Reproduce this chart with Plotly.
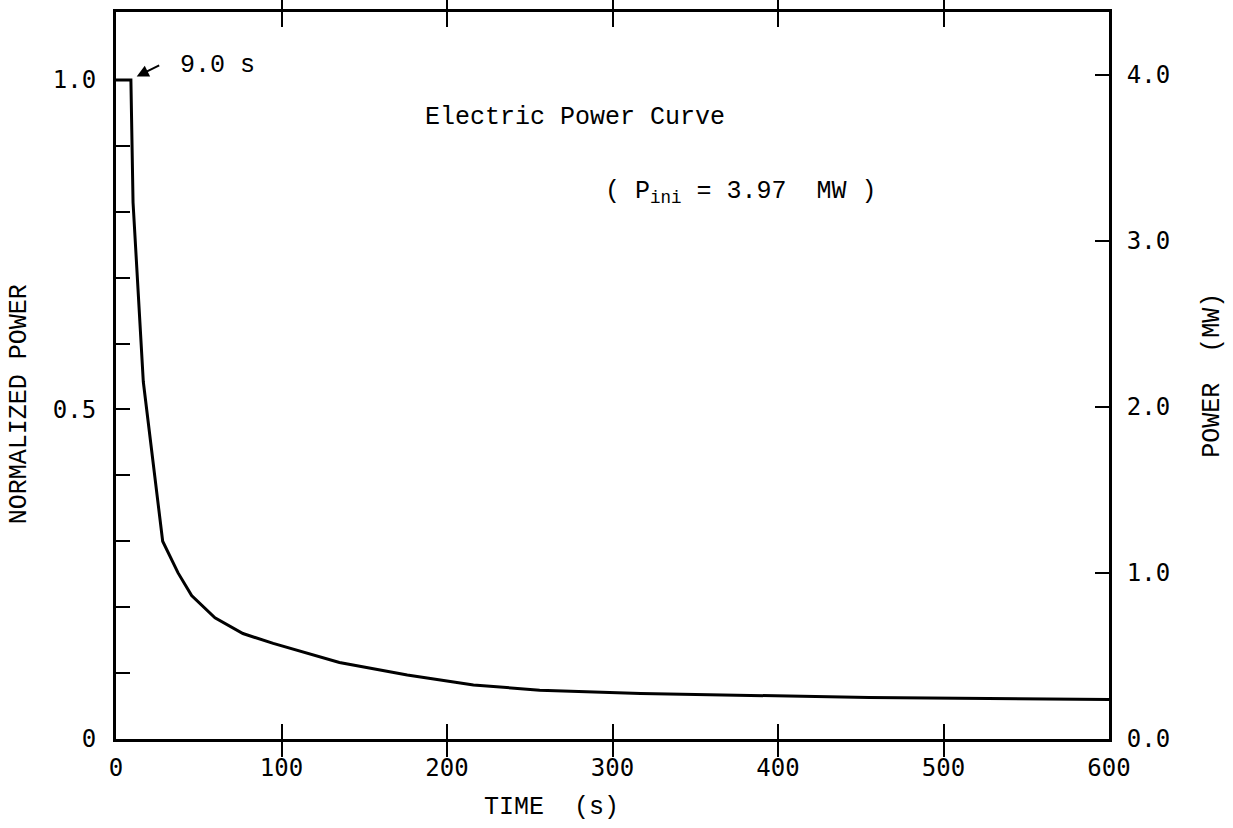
import plotly.graph_objects as go

# Data
time_s = [0, 9, 10.3, 16.5, 28.2, 37.5, 45.7, 59.8, 76.7, 95, 135, 176, 216, 256, 317, 455, 600]
norm_power = [1.0, 1.0, 0.814, 0.542, 0.30, 0.252, 0.2175, 0.184, 0.160, 0.145, 0.116,
              0.097, 0.082, 0.074, 0.069, 0.063, 0.060]
P_ini = 3.97  # MW

x_ticks = [0, 100, 200, 300, 400, 500, 600]
y_ticks = [round(0.1 * i, 1) for i in range(11)]
y_tick_text = ["0", "", "", "", "", "0.5", "", "", "", "", "1.0"]
y2_ticks = [0.0, 1.0, 2.0, 3.0, 4.0]
y2_tick_text = ["0.0", "1.0", "2.0", "3.0", "4.0"]

y_max = 1.103

TICK_FONT = dict(family="DejaVu Sans Mono", size=24, color="black")
TEXT_FONT = dict(family="Liberation Mono", size=25, color="black")

fig = go.Figure()
fig.add_trace(go.Scatter(x=time_s, y=norm_power, mode="lines",
                         line=dict(color="black", width=3), showlegend=False))
# invisible trace to activate right axis
fig.add_trace(go.Scatter(x=[0], y=[0], yaxis="y2", mode="markers",
                         marker=dict(opacity=0), showlegend=False, hoverinfo="skip"))

fig.update_layout(
    width=1233, height=828,
    margin=dict(l=116, r=124, t=9, b=89),
    plot_bgcolor="white", paper_bgcolor="white",
    xaxis=dict(range=[0, 600], tickvals=x_ticks, ticktext=[str(v) for v in x_ticks],
               ticks="inside", ticklen=15, tickwidth=2, tickcolor="black",
               showline=True, linewidth=3, linecolor="black", mirror="allticks",
               showgrid=False, zeroline=False, tickfont=TICK_FONT, ticklabelstandoff=5),
    yaxis=dict(range=[0, y_max], tickvals=y_ticks, ticktext=y_tick_text,
               ticks="inside", ticklen=14, tickwidth=2, tickcolor="black",
               showline=True, linewidth=3, linecolor="black", mirror=False,
               showgrid=False, zeroline=False, tickfont=TICK_FONT, ticklabelstandoff=12),
    yaxis2=dict(range=[0, y_max * P_ini], tickvals=y2_ticks, ticktext=y2_tick_text,
                overlaying="y", side="right",
                ticks="inside", ticklen=14, tickwidth=2, tickcolor="black",
                showline=True, linewidth=3, linecolor="black",
                showgrid=False, zeroline=False, tickfont=TICK_FONT, ticklabelstandoff=10),
    annotations=[
        dict(text="TIME\u00a0\u00a0(s)", xref="paper", yref="paper", x=0.439, y=-0.094,
             xanchor="center", yanchor="middle", showarrow=False, font=TEXT_FONT),
        dict(text="NORMALIZED POWER", xref="paper", yref="paper", x=-0.097, y=0.46,
             xanchor="center", yanchor="middle", textangle=-90, showarrow=False, font=TEXT_FONT),
        dict(text="POWER\u00a0\u00a0(MW)", xref="paper", yref="paper", x=1.104, y=0.50,
             xanchor="center", yanchor="middle", textangle=-90, showarrow=False, font=TEXT_FONT),
        dict(text="Electric Power Curve", xref="paper", yref="paper", x=0.309, y=0.855,
             xanchor="left", yanchor="middle", showarrow=False, font=TEXT_FONT),
        dict(text="(\u00a0P<sub>ini</sub>\u00a0=\u00a03.97\u00a0\u00a0MW\u00a0)", xref="paper", yref="paper",
             x=0.490, y=0.752, xanchor="left", yanchor="middle", showarrow=False, font=TEXT_FONT),
        dict(text="9.0\u00a0s", xref="paper", yref="paper", x=0.062, y=0.926,
             xanchor="left", yanchor="middle", showarrow=False, font=TEXT_FONT),
        dict(text="", x=12.5, y=1.005, xref="x", yref="y", showarrow=True,
             arrowhead=2, arrowsize=1.2, arrowwidth=2, arrowcolor="black", ax=24, ay=-12),
    ],
)

fig.write_html("out.html")
